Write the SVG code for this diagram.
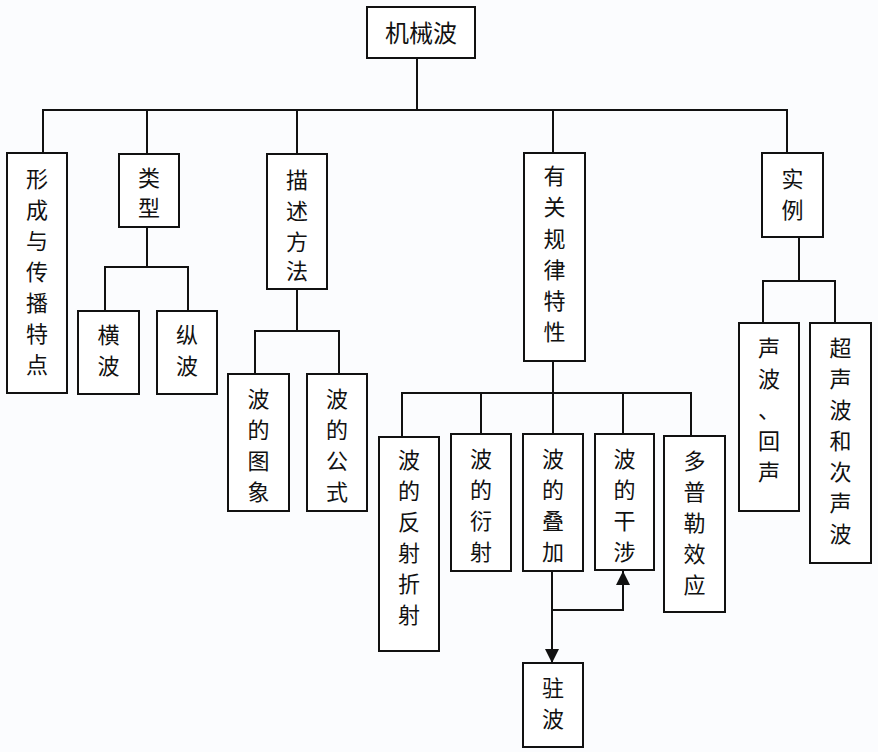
<svg xmlns="http://www.w3.org/2000/svg" width="878" height="752" viewBox="0 0 878 752">
<style>
.box{fill:#ffffff;stroke:#111;stroke-width:2}
.ln{fill:none;stroke:#111;stroke-width:2}
.t{font-family:"Noto Sans CJK SC","Noto Sans",sans-serif;font-size:22px;fill:#111;text-anchor:middle;dominant-baseline:central}
</style>
<defs>
<marker id="ah" viewBox="0 0 14 14" refX="14" refY="7" markerWidth="14" markerHeight="14" markerUnits="userSpaceOnUse" orient="auto">
<path d="M0,0 L14,7 L0,14 Z" fill="#111"/>
</marker>
</defs>
<rect width="878" height="752" fill="#fbfcfe"/>
<g id="connectors">
<path class="ln" d="M417 58 V110"/>
<path class="ln" d="M43 153 V110 H787 V153"/>
<path class="ln" d="M147 110 V154"/>
<path class="ln" d="M297 110 V154"/>
<path class="ln" d="M553 110 V153"/>
<path class="ln" d="M147 227 V267"/>
<path class="ln" d="M105 311 V267 H188 V311"/>
<path class="ln" d="M297 289 V331"/>
<path class="ln" d="M255 374 V331 H339 V374"/>
<path class="ln" d="M553 361 V393"/>
<path class="ln" d="M402 437 V393 H691 V436"/>
<path class="ln" d="M481 393 V434"/>
<path class="ln" d="M553 393 V434"/>
<path class="ln" d="M623 393 V434"/>
<path class="ln" d="M799 237 V281"/>
<path class="ln" d="M763 323 V281 H835 V323"/>
<path class="ln" d="M552 571 V663" marker-end="url(#ah)"/>
<path class="ln" d="M552 610 H623 V571" marker-end="url(#ah)"/>
</g>
<g id="root"><rect class="box" x="367" y="7" width="108" height="51"/><text class="t" x="421" y="31" style="font-size:24px">机械波</text></g>
<g id="n1"><rect class="box" x="7" y="153" width="60" height="240"/><text class="t"><tspan x="37" y="177">形</tspan><tspan x="37" y="208">成</tspan><tspan x="37" y="239">与</tspan><tspan x="37" y="270">传</tspan><tspan x="37" y="301">播</tspan><tspan x="37" y="332">特</tspan><tspan x="37" y="363">点</tspan></text></g>
<g id="n2"><rect class="box" x="119" y="154" width="60" height="73"/><text class="t"><tspan x="149" y="176">类</tspan><tspan x="149" y="206">型</tspan></text></g>
<g id="n3"><rect class="box" x="267" y="154" width="60" height="135"/><text class="t"><tspan x="297" y="178">描</tspan><tspan x="297" y="209">述</tspan><tspan x="297" y="240">方</tspan><tspan x="297" y="269">法</tspan></text></g>
<g id="n4"><rect class="box" x="524" y="153" width="61" height="208"/><text class="t"><tspan x="554.5" y="174">有</tspan><tspan x="554.5" y="205">关</tspan><tspan x="554.5" y="237">规</tspan><tspan x="554.5" y="268">律</tspan><tspan x="554.5" y="299">特</tspan><tspan x="554.5" y="330">性</tspan></text></g>
<g id="n5"><rect class="box" x="762" y="153" width="61" height="84"/><text class="t"><tspan x="792.5" y="177">实</tspan><tspan x="792.5" y="208">例</tspan></text></g>
<g id="n21"><rect class="box" x="78" y="311" width="61" height="83"/><text class="t"><tspan x="108.5" y="333">横</tspan><tspan x="108.5" y="364">波</tspan></text></g>
<g id="n22"><rect class="box" x="157" y="311" width="60" height="83"/><text class="t"><tspan x="187" y="333">纵</tspan><tspan x="187" y="364">波</tspan></text></g>
<g id="n31"><rect class="box" x="228" y="374" width="61" height="137"/><text class="t"><tspan x="258.5" y="397">波</tspan><tspan x="258.5" y="428">的</tspan><tspan x="258.5" y="459">图</tspan><tspan x="258.5" y="490">象</tspan></text></g>
<g id="n32"><rect class="box" x="307" y="374" width="60" height="137"/><text class="t"><tspan x="337" y="397">波</tspan><tspan x="337" y="428">的</tspan><tspan x="337" y="459">公</tspan><tspan x="337" y="490">式</tspan></text></g>
<g id="n41"><rect class="box" x="379" y="437" width="60" height="214"/><text class="t"><tspan x="409" y="458">波</tspan><tspan x="409" y="489">的</tspan><tspan x="409" y="520">反</tspan><tspan x="409" y="551">射</tspan><tspan x="409" y="582">折</tspan><tspan x="409" y="613">射</tspan></text></g>
<g id="n42"><rect class="box" x="451" y="434" width="60" height="137"/><text class="t"><tspan x="481" y="457">波</tspan><tspan x="481" y="488">的</tspan><tspan x="481" y="519">衍</tspan><tspan x="481" y="550">射</tspan></text></g>
<g id="n43"><rect class="box" x="523" y="434" width="60" height="137"/><text class="t"><tspan x="553" y="457">波</tspan><tspan x="553" y="488">的</tspan><tspan x="553" y="519">叠</tspan><tspan x="553" y="550">加</tspan></text></g>
<g id="n44"><rect class="box" x="595" y="434" width="59" height="136"/><text class="t"><tspan x="624.5" y="457">波</tspan><tspan x="624.5" y="488">的</tspan><tspan x="624.5" y="519">干</tspan><tspan x="624.5" y="550">涉</tspan></text></g>
<g id="n45"><rect class="box" x="664" y="436" width="61" height="176"/><text class="t"><tspan x="694.5" y="459">多</tspan><tspan x="694.5" y="490">普</tspan><tspan x="694.5" y="521">勒</tspan><tspan x="694.5" y="552">效</tspan><tspan x="694.5" y="583">应</tspan></text></g>
<g id="n46"><rect class="box" x="523" y="663" width="60" height="84"/><text class="t"><tspan x="553" y="686">驻</tspan><tspan x="553" y="717">波</tspan></text></g>
<g id="n51"><rect class="box" x="739" y="323" width="60" height="188"/><text class="t"><tspan x="769" y="346">声</tspan><tspan x="769" y="377">波</tspan><tspan x="769" y="408">、</tspan><tspan x="769" y="439">回</tspan><tspan x="769" y="470">声</tspan></text></g>
<g id="n52"><rect class="box" x="810" y="323" width="61" height="240"/><text class="t"><tspan x="840.5" y="346">超</tspan><tspan x="840.5" y="377">声</tspan><tspan x="840.5" y="408">波</tspan><tspan x="840.5" y="439">和</tspan><tspan x="840.5" y="470">次</tspan><tspan x="840.5" y="501">声</tspan><tspan x="840.5" y="532">波</tspan></text></g>
</svg>
